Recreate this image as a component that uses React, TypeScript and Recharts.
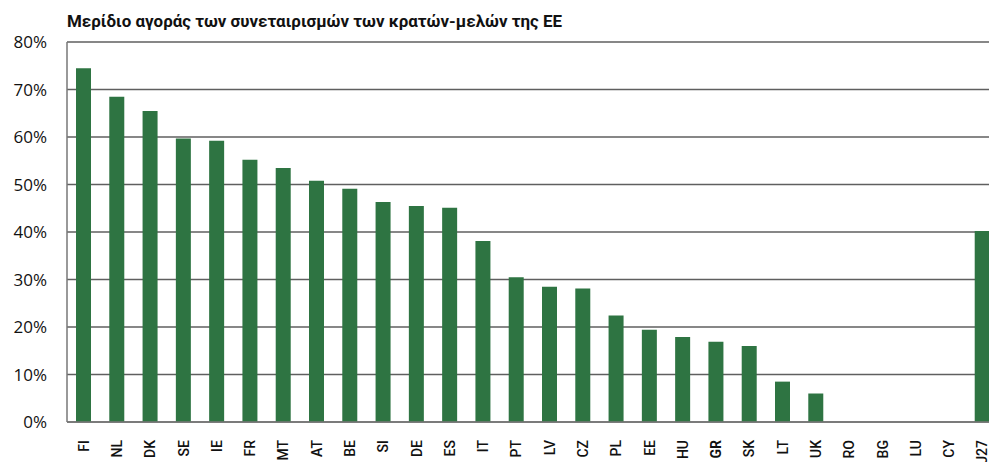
import React from "react";
import { BarChart, Bar, XAxis, YAxis, CartesianGrid } from "recharts";

const countries = [
  "FI", "NL", "DK", "SE", "IE", "FR", "MT", "AT", "BE", "SI", "DE", "ES", "IT", "PT",
  "LV", "CZ", "PL", "EE", "HU", "GR", "SK", "LT", "UK", "RO", "BG", "LU", "CY", "EU27",
];
const shares = [
  74.5, 68.5, 65.5, 59.7, 59.2, 55.2, 53.5, 50.8, 49.1, 46.3, 45.5, 45.1, 38.1, 30.5,
  28.5, 28.1, 22.4, 19.4, 17.9, 16.9, 16.0, 8.5, 6.0, 0, 0, 0, 0, 40.2,
];
const yTicks = [0, 10, 20, 30, 40, 50, 60, 70, 80];
const highlighted = "GR";

const data = countries.map((c, i) => ({ country: c, share: shares[i] }));

const CountryTick = (props: any) => {
  const { x, y, payload } = props;
  const bold = payload.value === highlighted;
  return (
    <text
      x={x}
      y={y + 10}
      transform={`rotate(-90, ${x}, ${y + 10})`}
      textAnchor="end"
      dy="0.36em"
      fontFamily="Roboto, sans-serif"
      fontSize={14}
      fontWeight={bold ? 700 : 500}
      fill="#111"
    >
      {payload.value}
    </text>
  );
};

export default function App() {
  return (
    <div style={{ position: "absolute", left: 0, top: 0, width: 989, height: 462, overflow: "hidden", background: "white" }}>
      <svg width={989} height={40} style={{ position: "absolute", left: 0, top: 0 }}>
        <text
          x={67}
          y={27}
          fontFamily="Roboto, sans-serif"
          fontWeight={700}
          fontSize={17}
          textLength={495}
          lengthAdjust="spacingAndGlyphs"
          fill="#111"
        >
          Μερίδιο αγοράς των συνεταιρισμών των κρατών-μελών της ΕΕ
        </text>
      </svg>
      <BarChart
        width={1000}
        height={462}
        data={data}
        margin={{ top: 42, right: 1, bottom: 0, left: 0 }}
        barCategoryGap="28%"
      >
        <CartesianGrid vertical={false} stroke="#5f5f5f" strokeWidth={1.3} />
        <YAxis
          width={67}
          domain={[0, 80]}
          ticks={yTicks}
          interval={0}
          tickFormatter={(v: number) => `${v}%`}
          tickLine={false}
          axisLine={{ stroke: "#777", strokeWidth: 1.5 }}
          tickMargin={14}
          tick={{ fill: "#111", fontSize: 17, fontFamily: "'Open Sans', sans-serif" }}
        />
        <XAxis
          dataKey="country"
          height={40}
          interval={0}
          tickLine={false}
          axisLine={{ stroke: "#777", strokeWidth: 1.5 }}
          tick={<CountryTick />}
        />
        <Bar dataKey="share" fill="#2e7442" barSize={15} isAnimationActive={false} />
      </BarChart>
    </div>
  );
}
